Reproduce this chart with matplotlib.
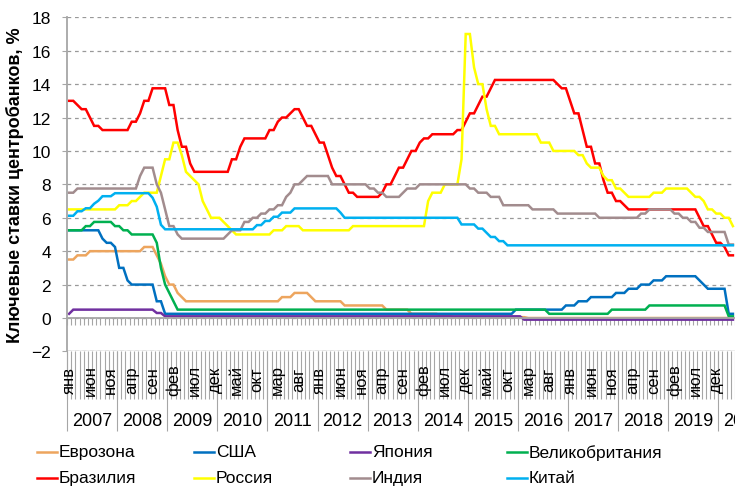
import matplotlib
matplotlib.use("Agg")
import matplotlib.pyplot as plt
import matplotlib.transforms as mtransforms
import numpy as np
from matplotlib.lines import Line2D

plt.rcParams["font.family"] = ["Liberation Sans", "DejaVu Sans"]

# monthly data, Jan 2007 .. Apr 2020
years = [2007, 2008, 2009, 2010, 2011, 2012, 2013, 2014, 2015, 2016, 2017, 2018, 2019, 2020]
month_names = ["янв", "фев", "мар", "апр", "май", "июн", "июл", "авг", "сен", "окт", "ноя", "дек"]

eurozone = [
    3.5, 3.5, 3.75, 3.75, 3.75, 4.0, 4.0, 4.0, 4.0, 4.0, 4.0, 4.0,
    4.0, 4.0, 4.0, 4.0, 4.0, 4.0, 4.25, 4.25, 4.25, 3.75, 3.25, 2.5,
    2.0, 2.0, 1.5, 1.25, 1.0, 1.0, 1.0, 1.0, 1.0, 1.0, 1.0, 1.0,
    1.0, 1.0, 1.0, 1.0, 1.0, 1.0, 1.0, 1.0, 1.0, 1.0, 1.0, 1.0,
    1.0, 1.0, 1.0, 1.25, 1.25, 1.25, 1.5, 1.5, 1.5, 1.5, 1.25, 1.0,
    1.0, 1.0, 1.0, 1.0, 1.0, 1.0, 0.75, 0.75, 0.75, 0.75, 0.75, 0.75,
    0.75, 0.75, 0.75, 0.75, 0.5, 0.5, 0.5, 0.5, 0.5, 0.5, 0.25, 0.25,
    0.25, 0.25, 0.25, 0.25, 0.25, 0.15, 0.15, 0.15, 0.05, 0.05, 0.05, 0.05,
    0.05, 0.05, 0.05, 0.05, 0.05, 0.05, 0.05, 0.05, 0.05, 0.05, 0.05, 0.05,
    0.05, 0.05, 0.0, 0.0, 0.0, 0.0, 0.0, 0.0, 0.0, 0.0, 0.0, 0.0,
    0.0, 0.0, 0.0, 0.0, 0.0, 0.0, 0.0, 0.0, 0.0, 0.0, 0.0, 0.0,
    0.0, 0.0, 0.0, 0.0, 0.0, 0.0, 0.0, 0.0, 0.0, 0.0, 0.0, 0.0,
    0.0, 0.0, 0.0, 0.0, 0.0, 0.0, 0.0, 0.0, 0.0, 0.0, 0.0, 0.0,
    0.0, 0.0, 0.0, 0.0,
]

usa = [
    5.25, 5.25, 5.25, 5.25, 5.25, 5.25, 5.25, 5.25, 4.75, 4.5, 4.5, 4.25,
    3.0, 3.0, 2.25, 2.0, 2.0, 2.0, 2.0, 2.0, 2.0, 1.0, 1.0, 0.25,
    0.25, 0.25, 0.25, 0.25, 0.25, 0.25, 0.25, 0.25, 0.25, 0.25, 0.25, 0.25,
    0.25, 0.25, 0.25, 0.25, 0.25, 0.25, 0.25, 0.25, 0.25, 0.25, 0.25, 0.25,
    0.25, 0.25, 0.25, 0.25, 0.25, 0.25, 0.25, 0.25, 0.25, 0.25, 0.25, 0.25,
    0.25, 0.25, 0.25, 0.25, 0.25, 0.25, 0.25, 0.25, 0.25, 0.25, 0.25, 0.25,
    0.25, 0.25, 0.25, 0.25, 0.25, 0.25, 0.25, 0.25, 0.25, 0.25, 0.25, 0.25,
    0.25, 0.25, 0.25, 0.25, 0.25, 0.25, 0.25, 0.25, 0.25, 0.25, 0.25, 0.25,
    0.25, 0.25, 0.25, 0.25, 0.25, 0.25, 0.25, 0.25, 0.25, 0.25, 0.25, 0.5,
    0.5, 0.5, 0.5, 0.5, 0.5, 0.5, 0.5, 0.5, 0.5, 0.5, 0.5, 0.75,
    0.75, 0.75, 1.0, 1.0, 1.0, 1.25, 1.25, 1.25, 1.25, 1.25, 1.25, 1.5,
    1.5, 1.5, 1.75, 1.75, 1.75, 2.0, 2.0, 2.0, 2.25, 2.25, 2.25, 2.5,
    2.5, 2.5, 2.5, 2.5, 2.5, 2.5, 2.5, 2.25, 2.0, 1.75, 1.75, 1.75,
    1.75, 1.75, 0.25, 0.25,
]

japan = [
    0.25, 0.5, 0.5, 0.5, 0.5, 0.5, 0.5, 0.5, 0.5, 0.5, 0.5, 0.5,
    0.5, 0.5, 0.5, 0.5, 0.5, 0.5, 0.5, 0.5, 0.5, 0.3, 0.3, 0.1,
    0.1, 0.1, 0.1, 0.1, 0.1, 0.1, 0.1, 0.1, 0.1, 0.1, 0.1, 0.1,
    0.1, 0.1, 0.1, 0.1, 0.1, 0.1, 0.1, 0.1, 0.1, 0.1, 0.1, 0.1,
    0.1, 0.1, 0.1, 0.1, 0.1, 0.1, 0.1, 0.1, 0.1, 0.1, 0.1, 0.1,
    0.1, 0.1, 0.1, 0.1, 0.1, 0.1, 0.1, 0.1, 0.1, 0.1, 0.1, 0.1,
    0.1, 0.1, 0.1, 0.1, 0.1, 0.1, 0.1, 0.1, 0.1, 0.1, 0.1, 0.1,
    0.1, 0.1, 0.1, 0.1, 0.1, 0.1, 0.1, 0.1, 0.1, 0.1, 0.1, 0.1,
    0.1, 0.1, 0.1, 0.1, 0.1, 0.1, 0.1, 0.1, 0.1, 0.1, 0.1, 0.1,
    0.1, -0.1, -0.1, -0.1, -0.1, -0.1, -0.1, -0.1, -0.1, -0.1, -0.1, -0.1,
    -0.1, -0.1, -0.1, -0.1, -0.1, -0.1, -0.1, -0.1, -0.1, -0.1, -0.1, -0.1,
    -0.1, -0.1, -0.1, -0.1, -0.1, -0.1, -0.1, -0.1, -0.1, -0.1, -0.1, -0.1,
    -0.1, -0.1, -0.1, -0.1, -0.1, -0.1, -0.1, -0.1, -0.1, -0.1, -0.1, -0.1,
    -0.1, -0.1, -0.1, -0.1,
]

uk = [
    5.25, 5.25, 5.25, 5.25, 5.5, 5.5, 5.75, 5.75, 5.75, 5.75, 5.75, 5.5,
    5.5, 5.25, 5.25, 5.0, 5.0, 5.0, 5.0, 5.0, 5.0, 4.5, 3.0, 2.0,
    1.5, 1.0, 0.5, 0.5, 0.5, 0.5, 0.5, 0.5, 0.5, 0.5, 0.5, 0.5,
    0.5, 0.5, 0.5, 0.5, 0.5, 0.5, 0.5, 0.5, 0.5, 0.5, 0.5, 0.5,
    0.5, 0.5, 0.5, 0.5, 0.5, 0.5, 0.5, 0.5, 0.5, 0.5, 0.5, 0.5,
    0.5, 0.5, 0.5, 0.5, 0.5, 0.5, 0.5, 0.5, 0.5, 0.5, 0.5, 0.5,
    0.5, 0.5, 0.5, 0.5, 0.5, 0.5, 0.5, 0.5, 0.5, 0.5, 0.5, 0.5,
    0.5, 0.5, 0.5, 0.5, 0.5, 0.5, 0.5, 0.5, 0.5, 0.5, 0.5, 0.5,
    0.5, 0.5, 0.5, 0.5, 0.5, 0.5, 0.5, 0.5, 0.5, 0.5, 0.5, 0.5,
    0.5, 0.5, 0.5, 0.5, 0.5, 0.5, 0.5, 0.25, 0.25, 0.25, 0.25, 0.25,
    0.25, 0.25, 0.25, 0.25, 0.25, 0.25, 0.25, 0.25, 0.25, 0.25, 0.5, 0.5,
    0.5, 0.5, 0.5, 0.5, 0.5, 0.5, 0.5, 0.75, 0.75, 0.75, 0.75, 0.75,
    0.75, 0.75, 0.75, 0.75, 0.75, 0.75, 0.75, 0.75, 0.75, 0.75, 0.75, 0.75,
    0.75, 0.75, 0.1, 0.1,
]

brazil = [
    13.0, 13.0, 12.75, 12.5, 12.5, 12.0, 11.5, 11.5, 11.25, 11.25, 11.25, 11.25,
    11.25, 11.25, 11.25, 11.75, 11.75, 12.25, 13.0, 13.0, 13.75, 13.75, 13.75, 13.75,
    12.75, 12.75, 11.25, 10.25, 10.25, 9.25, 8.75, 8.75, 8.75, 8.75, 8.75, 8.75,
    8.75, 8.75, 8.75, 9.5, 9.5, 10.25, 10.75, 10.75, 10.75, 10.75, 10.75, 10.75,
    11.25, 11.25, 11.75, 12.0, 12.0, 12.25, 12.5, 12.5, 12.0, 11.5, 11.5, 11.0,
    10.5, 10.5, 9.75, 9.0, 8.5, 8.5, 8.0, 7.5, 7.5, 7.25, 7.25, 7.25,
    7.25, 7.25, 7.25, 7.5, 8.0, 8.0, 8.5, 9.0, 9.0, 9.5, 10.0, 10.0,
    10.5, 10.75, 10.75, 11.0, 11.0, 11.0, 11.0, 11.0, 11.0, 11.25, 11.25, 11.75,
    12.25, 12.25, 12.75, 13.25, 13.25, 13.75, 14.25, 14.25, 14.25, 14.25, 14.25, 14.25,
    14.25, 14.25, 14.25, 14.25, 14.25, 14.25, 14.25, 14.25, 14.25, 14.0, 13.75, 13.75,
    13.0, 12.25, 12.25, 11.25, 10.25, 10.25, 9.25, 9.25, 8.25, 7.5, 7.5, 7.0,
    7.0, 6.75, 6.5, 6.5, 6.5, 6.5, 6.5, 6.5, 6.5, 6.5, 6.5, 6.5,
    6.5, 6.5, 6.5, 6.5, 6.5, 6.5, 6.5, 6.0, 5.5, 5.5, 5.0, 4.5,
    4.5, 4.25, 3.75, 3.75,
]

russia = [
    6.5, 6.5, 6.5, 6.5, 6.5, 6.5, 6.5, 6.5, 6.5, 6.5, 6.5, 6.5,
    6.75, 6.75, 6.75, 7.0, 7.0, 7.25, 7.5, 7.5, 7.5, 7.5, 8.5, 9.5,
    9.5, 10.5, 10.5, 9.75, 8.75, 8.5, 8.25, 8.0, 7.0, 6.5, 6.0, 6.0,
    6.0, 5.75, 5.5, 5.25, 5.0, 5.0, 5.0, 5.0, 5.0, 5.0, 5.0, 5.0,
    5.0, 5.25, 5.25, 5.25, 5.5, 5.5, 5.5, 5.5, 5.25, 5.25, 5.25, 5.25,
    5.25, 5.25, 5.25, 5.25, 5.25, 5.25, 5.25, 5.25, 5.5, 5.5, 5.5, 5.5,
    5.5, 5.5, 5.5, 5.5, 5.5, 5.5, 5.5, 5.5, 5.5, 5.5, 5.5, 5.5,
    5.5, 5.5, 7.0, 7.5, 7.5, 7.5, 8.0, 8.0, 8.0, 8.0, 9.5, 17.0,
    17.0, 15.0, 14.0, 14.0, 12.5, 11.5, 11.5, 11.0, 11.0, 11.0, 11.0, 11.0,
    11.0, 11.0, 11.0, 11.0, 11.0, 10.5, 10.5, 10.5, 10.0, 10.0, 10.0, 10.0,
    10.0, 10.0, 9.75, 9.75, 9.25, 9.0, 9.0, 9.0, 8.5, 8.25, 8.25, 7.75,
    7.75, 7.5, 7.25, 7.25, 7.25, 7.25, 7.25, 7.25, 7.5, 7.5, 7.5, 7.75,
    7.75, 7.75, 7.75, 7.75, 7.75, 7.5, 7.25, 7.25, 7.0, 6.5, 6.5, 6.25,
    6.25, 6.0, 6.0, 5.5,
]

india = [
    7.5, 7.5, 7.75, 7.75, 7.75, 7.75, 7.75, 7.75, 7.75, 7.75, 7.75, 7.75,
    7.75, 7.75, 7.75, 7.75, 7.75, 8.5, 9.0, 9.0, 9.0, 8.0, 7.5, 6.5,
    5.5, 5.5, 5.0, 4.75, 4.75, 4.75, 4.75, 4.75, 4.75, 4.75, 4.75, 4.75,
    4.75, 4.75, 5.0, 5.25, 5.25, 5.25, 5.75, 5.75, 6.0, 6.0, 6.25, 6.25,
    6.5, 6.5, 6.75, 6.75, 7.25, 7.5, 8.0, 8.0, 8.25, 8.5, 8.5, 8.5,
    8.5, 8.5, 8.5, 8.0, 8.0, 8.0, 8.0, 8.0, 8.0, 8.0, 8.0, 8.0,
    7.75, 7.75, 7.5, 7.5, 7.25, 7.25, 7.25, 7.25, 7.5, 7.75, 7.75, 7.75,
    8.0, 8.0, 8.0, 8.0, 8.0, 8.0, 8.0, 8.0, 8.0, 8.0, 8.0, 8.0,
    7.75, 7.75, 7.5, 7.5, 7.5, 7.25, 7.25, 7.25, 6.75, 6.75, 6.75, 6.75,
    6.75, 6.75, 6.75, 6.5, 6.5, 6.5, 6.5, 6.5, 6.5, 6.25, 6.25, 6.25,
    6.25, 6.25, 6.25, 6.25, 6.25, 6.25, 6.25, 6.0, 6.0, 6.0, 6.0, 6.0,
    6.0, 6.0, 6.0, 6.0, 6.0, 6.25, 6.25, 6.5, 6.5, 6.5, 6.5, 6.5,
    6.5, 6.25, 6.25, 6.0, 6.0, 5.75, 5.75, 5.4, 5.4, 5.15, 5.15, 5.15,
    5.15, 5.15, 4.4, 4.4,
]

china = [
    6.12, 6.12, 6.39, 6.39, 6.57, 6.57, 6.84, 7.02, 7.29, 7.29, 7.29, 7.47,
    7.47, 7.47, 7.47, 7.47, 7.47, 7.47, 7.47, 7.47, 7.2, 6.66, 5.58, 5.31,
    5.31, 5.31, 5.31, 5.31, 5.31, 5.31, 5.31, 5.31, 5.31, 5.31, 5.31, 5.31,
    5.31, 5.31, 5.31, 5.31, 5.31, 5.31, 5.31, 5.31, 5.31, 5.56, 5.56, 5.81,
    5.81, 6.06, 6.06, 6.31, 6.31, 6.31, 6.56, 6.56, 6.56, 6.56, 6.56, 6.56,
    6.56, 6.56, 6.56, 6.56, 6.56, 6.31, 6.0, 6.0, 6.0, 6.0, 6.0, 6.0,
    6.0, 6.0, 6.0, 6.0, 6.0, 6.0, 6.0, 6.0, 6.0, 6.0, 6.0, 6.0,
    6.0, 6.0, 6.0, 6.0, 6.0, 6.0, 6.0, 6.0, 6.0, 6.0, 5.6, 5.6,
    5.6, 5.6, 5.35, 5.35, 5.1, 4.85, 4.85, 4.6, 4.6, 4.35, 4.35, 4.35,
    4.35, 4.35, 4.35, 4.35, 4.35, 4.35, 4.35, 4.35, 4.35, 4.35, 4.35, 4.35,
    4.35, 4.35, 4.35, 4.35, 4.35, 4.35, 4.35, 4.35, 4.35, 4.35, 4.35, 4.35,
    4.35, 4.35, 4.35, 4.35, 4.35, 4.35, 4.35, 4.35, 4.35, 4.35, 4.35, 4.35,
    4.35, 4.35, 4.35, 4.35, 4.35, 4.35, 4.35, 4.35, 4.35, 4.35, 4.35, 4.35,
    4.35, 4.35, 4.35, 4.35,
]

names = ["Еврозона", "США", "Япония", "Великобритания",
         "Бразилия", "Россия", "Индия", "Китай"]
colors = ["#EDA55E", "#0070C0", "#7030A0", "#00B050",
          "#FF0000", "#FFFF00", "#A28C8E", "#00B0F0"]
series = [eurozone, usa, japan, uk, brazil, russia, india, china]

W, H = 735, 489
grey = "#A6A6A6"

fig = plt.figure(figsize=(W / 100, H / 100), dpi=100)
ax = fig.add_axes([67 / W, 1 - 352.4 / H, 668 / W, 334.1 / H])

n = len(eurozone)
x = np.arange(n)
for name, color, vals in zip(names, colors, series):
    ax.plot(x, vals, color=color, lw=1.8, label=name, solid_joinstyle="miter")

ax.set_xlim(-0.5, 159.3)
ax.set_ylim(-2, 18)
ax.set_yticks(np.arange(-2, 19, 2))
ax.yaxis.grid(True, linestyle=(0, (3, 3)), color="#999999", lw=0.9)
ax.set_axisbelow(True)
ax.tick_params(axis="y", length=3.6, color=grey, labelsize=12.5, pad=8)

for s in ["top", "right"]:
    ax.spines[s].set_visible(False)
ax.spines["left"].set_color(grey)
ax.spines["left"].set_linewidth(1.3)
ax.spines["bottom"].set_position(("data", 0))
ax.spines["bottom"].set_color(grey)
ax.spines["bottom"].set_linewidth(1.3)
ax.set_xticks(np.arange(-0.5, n, 1))
ax.tick_params(axis="x", length=4.8, color=grey, width=0.8,
               labelbottom=False, direction="out")
ax.axhline(-2, color=grey, lw=1.0)

# category axis below the plot
trans = mtransforms.blended_transform_factory(ax.transData, ax.transAxes)
bounds = np.arange(-0.5, n, 1)
year_bounds = np.arange(-0.5, n, 12)
ax.vlines(bounds, -0.1425, 0, transform=trans, colors=grey, lw=0.8, clip_on=False)
ax.vlines(year_bounds, -0.238, 0, transform=trans, colors=grey, lw=0.8, clip_on=False)

for i in range(0, n, 5):
    ax.text(i, -0.083, month_names[i % 12], transform=trans, rotation=90,
            ha="center", va="center", fontsize=12, clip_on=False)
for k, yr in enumerate(years):
    ax.text(12 * k + 5.5, -0.208, str(yr), transform=trans, ha="center",
            va="center", fontsize=13, clip_on=False)

fig.text(15 / W, 1 - 185 / H, "Ключевые ставки центробанков, %", rotation=90,
         ha="center", va="center", fontsize=13, fontweight="bold")

# legend, 2 rows x 4 columns
col_x = [37, 194, 350, 507]
row_y = [453, 479]
for i, (name, color) in enumerate(zip(names, colors)):
    x0 = col_x[i % 4]
    y0 = 1 - row_y[i // 4] / H
    fig.add_artist(Line2D([x0 / W, (x0 + 20) / W], [y0, y0],
                          transform=fig.transFigure, color=color, lw=1.8))
    fig.text((x0 + 22) / W, y0, name, ha="left", va="center", fontsize=12.5)

fig.savefig("out.png", dpi=100)
